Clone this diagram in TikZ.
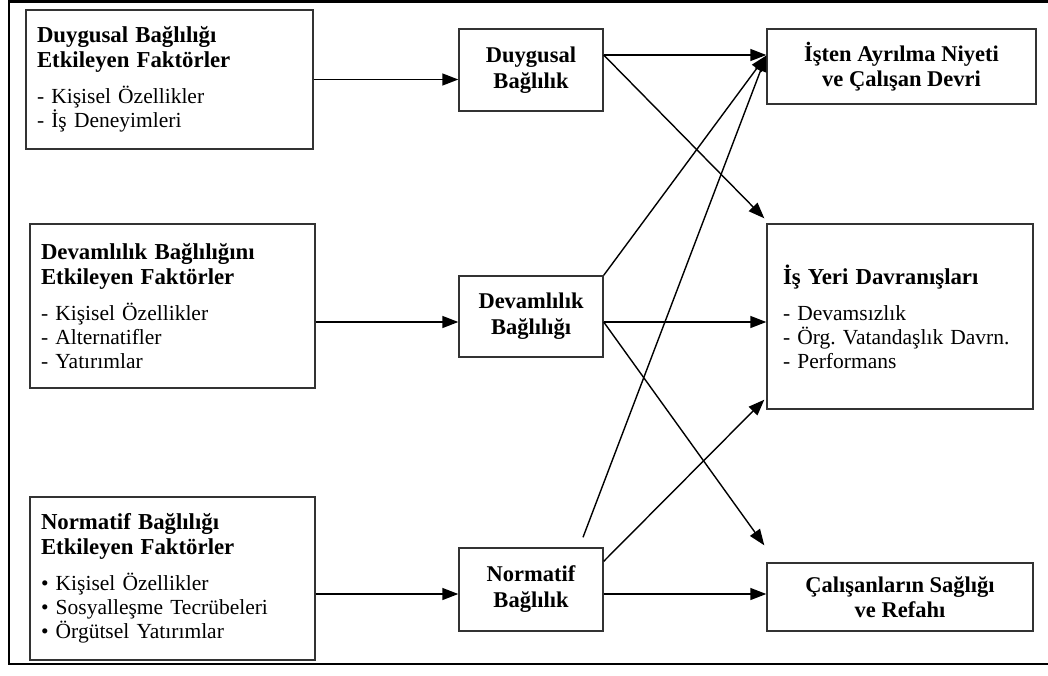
\documentclass[tikz,border=0pt]{standalone}
\usepackage{fontspec}
\setmainfont{Liberation Serif}
\usetikzlibrary{arrows.meta}
\frenchspacing
\tikzset{
  frame line/.style={line width=1.3pt, black},
  factor box/.style={draw=black!80, line width=0.7pt, inner xsep=5.5pt, inner ysep=0pt, align=left, font=\fontsize{10.75}{12}\selectfont},
  commit box/.style={draw=black!80, line width=0.7pt, inner sep=0pt, minimum width=72pt, align=center, font=\fontsize{11.25}{13}\selectfont\bfseries},
  outcome box/.style={draw=black!80, line width=0.7pt, inner sep=0pt, align=center, font=\fontsize{11.25}{12.5}\selectfont\bfseries},
  link arrow/.style={-{Triangle[length=8pt, width=6pt]}, line width=0.7pt, black},
}
\newcommand{\boxTitle}[1]{{\fontsize{11.4}{12.5}\selectfont\bfseries #1}}

\begin{document}
\begin{tikzpicture}[x=0.5pt, y=-0.5pt]
  \useasboundingbox (0,0) rectangle (1048,675);
  \draw[frame line] (1048,1.5) -- (9,1.5) -- (9,664) -- (1048,664);

  % factor boxes
  \node[factor box, text width=132.5pt, minimum height=69.5pt] (dbFaktor) at (169.5,79.5) {\boxTitle{Duygusal Bağlılığı}\\[0.5pt] \boxTitle{Etkileyen Faktörler}\\[6pt] - Kişisel Özellikler\\ - İş Deneyimleri};
  \node[factor box, text width=131.5pt, minimum height=82pt] (cbFaktor) at (172.5,306) {\boxTitle{Devamlılık Bağlılığını}\\[0.5pt] \boxTitle{Etkileyen Faktörler}\\[6pt] - Kişisel Özellikler\\ - Alternatifler\\ - Yatırımlar};
  \node[factor box, text width=131.5pt, minimum height=81.5pt] (nbFaktor) at (172.5,578.5) {\boxTitle{Normatif Bağlılığı}\\[0.5pt] \boxTitle{Etkileyen Faktörler}\\[6pt] • Kişisel Özellikler\\ • Sosyalleşme Tecrübeleri\\ • Örgütsel Yatırımlar};

  % commitment boxes
  \node[commit box, minimum height=41pt] (dbag) at (531,70) {Duygusal\\Bağlılık};
  \node[commit box, minimum height=40.5pt] (cbag) at (531,316.5) {Devamlılık\\Bağlılığı};
  \node[commit box, minimum height=41.5pt] (nbag) at (531,589.5) {Normatif\\Bağlılık};

  % outcome boxes
  \node[outcome box, minimum width=134.5pt, minimum height=37.5pt] (ayrilma) at (901.5,66.5) {İşten Ayrılma Niyeti\\ve Çalışan Devri};
  \node[factor box, inner xsep=8pt, text width=117pt, minimum height=92.5pt] (davranis) at (900,316.5) {\boxTitle{İş Yeri Davranışları}\\[6pt] - Devamsızlık\\ - Örg. Vatandaşlık Davrn.\\ - Performans};
  \node[outcome box, minimum width=133pt, minimum height=34pt] (saglik) at (900,597) {Çalışanların Sağlığı\\ve Refahı};

  \coordinate (dOut) at ([yshift=7.5pt]dbag.east);
  \coordinate (aIn) at ([yshift=5.5pt]ayrilma.west);
  \coordinate (dvTop) at ([shift={(-1pt,2.5pt)}]davranis.north west);
  \coordinate (dvBot) at ([shift={(-1pt,5pt)}]davranis.south west);
  \coordinate (sgTop) at ([shift={(-1pt,8.5pt)}]saglik.north west);
  \coordinate (cOut) at ([yshift=-2.75pt]cbag.east);
  \coordinate (nTop) at ([shift={(26pt,5pt)}]nbag.north);
  \coordinate (nOut) at ([yshift=-7pt]nbag.north east);
  \coordinate (nMid) at ([yshift=-2.25pt]nbag.east);

  \draw[link arrow] (dbFaktor.east) -- (dbFaktor.east -| dbag.west);
  \draw[link arrow] (cOut -| cbFaktor.east) -- (cOut -| cbag.west);
  \draw[link arrow] (nMid -| nbFaktor.east) -- (nMid -| nbag.west);

  \draw[link arrow] (dOut) -- (dOut -| ayrilma.west);
  \draw[link arrow] (dOut) -- (dvTop);
  \draw[link arrow] (cbag.north east) -- (aIn);
  \draw[link arrow] (cOut) -- (cOut -| davranis.west);
  \draw[link arrow] (cOut) -- (sgTop);
  \draw[link arrow] (nTop) -- (aIn);
  \draw[link arrow] (nOut) -- (dvBot);
  \draw[link arrow] (nMid) -- (nMid -| saglik.west);
\end{tikzpicture}
\end{document}
